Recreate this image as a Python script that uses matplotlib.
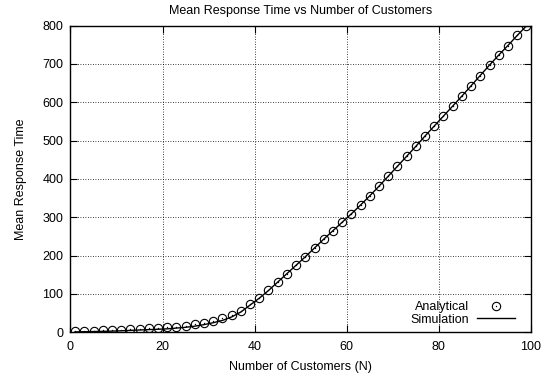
import numpy as np
import matplotlib
matplotlib.use("Agg")
import matplotlib.pyplot as plt
from matplotlib.legend_handler import HandlerTuple

plt.rcParams['font.family'] = ['Liberation Sans', 'DejaVu Sans']

# Number of customers in the closed network
customers = list(range(1, 100, 2))

# Mean response time from the analytical (MVA) model
analytical = [3, 3.5, 4, 5, 6, 7, 8, 9.5, 10.5, 11.5,
              13, 15, 17, 21, 25, 30, 36, 44, 56, 73,
              90, 110, 131, 153, 175, 196, 221, 244, 265, 287,
              308, 332, 356, 382, 408, 433, 459, 485, 512, 539,
              565, 590, 615, 643, 669, 698, 724, 747, 774, 800]

# Mean response time measured in the simulation
simulation = [1, 1.5, 2, 2.5, 3, 4, 5, 6, 7, 8,
              9, 11, 13, 16, 20, 25, 31, 40, 53, 71,
              89, 109, 131, 153, 175, 197, 220, 243, 265, 287,
              309, 332, 356, 381, 407, 433, 459, 485, 512, 538,
              564, 590, 616, 643, 670, 697, 723, 748, 774, 799]

fs = 9

fig = plt.figure(figsize=(5.58, 3.78), dpi=100)
ax = fig.add_axes([0.1263, 0.1209, 0.8253, 0.8116])

line, = ax.plot(customers, simulation, color='black', lw=1.0, zorder=3)
circ, = ax.plot(customers, analytical, ls='none', marker='o', ms=6.0,
                mfc='none', mec='black', mew=0.8, zorder=4)
dot, = ax.plot(customers, analytical, ls='none', marker='o', ms=1.0,
               mfc='black', mec='black', mew=0, zorder=4)

ax.set_xlim(0, 100)
ax.set_ylim(0, 800)
ax.set_xticks(np.arange(0, 101, 20))
ax.set_yticks(np.arange(0, 801, 100))
ax.grid(True, color='black', ls=(0, (1, 2)), lw=0.6)
ax.tick_params(direction='in', length=5, width=0.8, top=True, right=True,
               labelsize=fs, colors='black', pad=5)
ax.tick_params(axis='x', pad=6.5)
for s in ax.spines.values():
    s.set_linewidth(1.0)

ax.set_title("Mean Response Time vs Number of Customers", fontsize=fs, pad=8.5)
ax.set_xlabel("Number of Customers (N)", fontsize=fs, labelpad=5.5)
ax.set_ylabel("Mean Response Time", fontsize=fs, labelpad=11.5)

ax.legend([(circ, dot), line], ["Analytical", "Simulation"],
          handler_map={tuple: HandlerTuple(ndivide=1, pad=0)},
          loc='lower right', bbox_to_anchor=(0.986, -0.011), frameon=False,
          markerfirst=False, fontsize=fs, handlelength=3.0,
          labelspacing=0.05, handletextpad=0.65, borderpad=0.3)

fig.savefig("out.png", dpi=100)
